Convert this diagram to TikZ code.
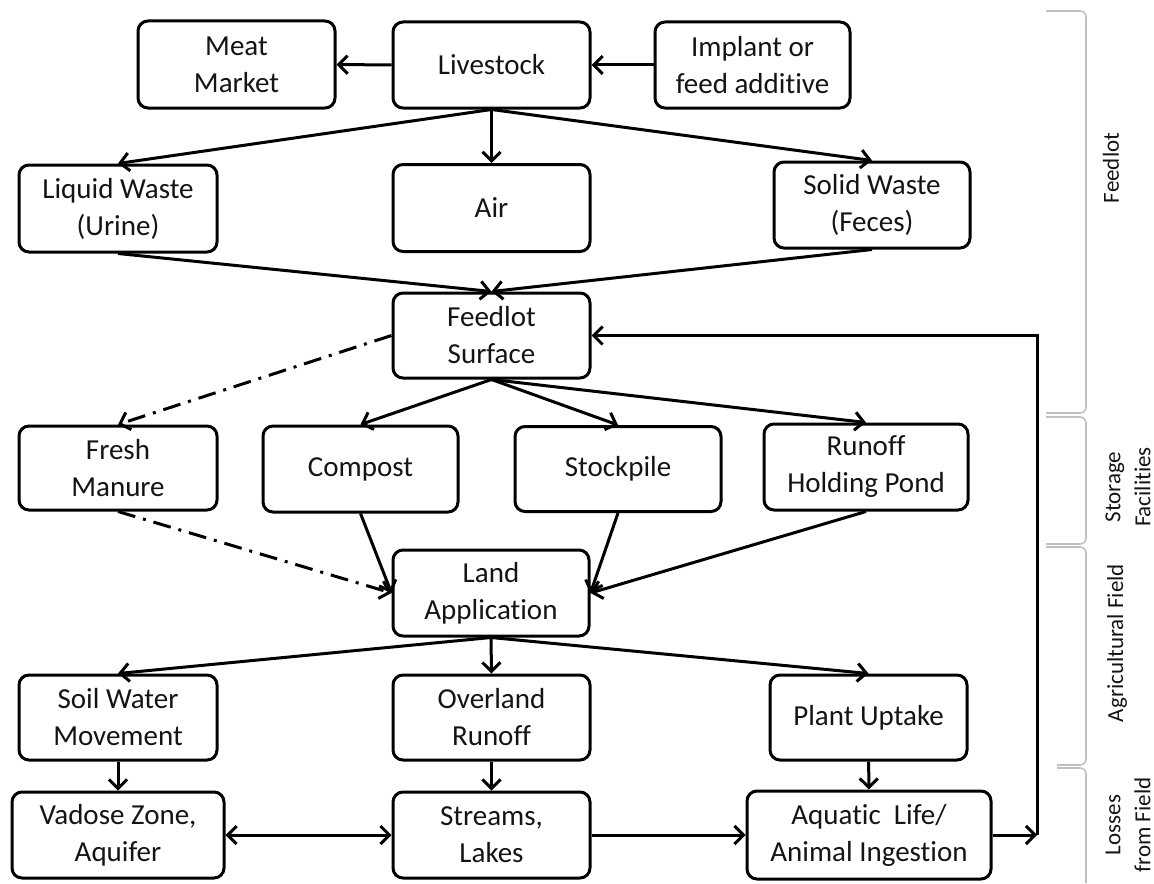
\documentclass[tikz,border=0pt]{standalone}
\usepackage{fontspec}
\setmainfont{Carlito}[Ligatures={NoCommon}]
\usetikzlibrary{arrows.meta}
\definecolor{brk}{RGB}{192,192,192}
\definecolor{txt}{RGB}{20,20,20}
\tikzset{
  box/.style={draw, line width=1.5pt, rounded corners=5pt, align=center,
    font=\fontsize{14.5}{18.5}\selectfont, text=txt, inner sep=1pt},
  arr/.style={line width=1.5pt, -{Straight Barb[length=4.5pt,width=9pt]}},
  dadot/.style={arr, dash pattern=on 9pt off 4pt on 1.5pt off 4pt},
  brack/.style={draw=brk, line width=0.8pt},
  side/.style={rotate=90, align=center, text=txt, font=\fontsize{11.5}{15}\selectfont}
}
\begin{document}
\begin{tikzpicture}[x=0.5pt,y=-0.5pt]
\useasboundingbox (0,0) rectangle (1154,883);
% row 1
\node[box, minimum width=98.5pt, minimum height=43.5pt] (meat) at (236.5,64.5) {Meat\\Market};
\node[box, minimum width=98.5pt, minimum height=43pt] (live) at (491.5,65) {Livestock};
\node[box, minimum width=97.5pt, minimum height=43pt] (impl) at (752.5,65) {Implant or\\feed additive};
% row 2
\node[box, minimum width=99pt, minimum height=43.5pt] (liq) at (118,208.5) {Liquid Waste\\(Urine)};
\node[box, minimum width=98.5pt, minimum height=43.5pt] (air) at (491.5,208) {Air};
\node[box, minimum width=98pt, minimum height=43pt] (solid) at (872,205) {Solid Waste\\(Feces)};
% feedlot surface
\node[box, minimum width=98.5pt, minimum height=42.5pt] (fs) at (491.5,335.5) {Feedlot\\Surface};
% row 4
\node[box, minimum width=99pt, minimum height=42pt] (fresh) at (118,468) {Fresh\\Manure};
\node[box, minimum width=97.5pt, minimum height=43pt] (comp) at (360.5,469) {Compost};
\node[box, minimum width=103pt, minimum height=42.5pt] (stock) at (618,469) {Stockpile};
\node[box, minimum width=102pt, minimum height=43pt] (pond) at (866,467) {Runoff\\Holding Pond};
% land application
\node[box, minimum width=98pt, minimum height=43pt] (land) at (491,593) {Land\\Application};
% row 6
\node[box, minimum width=99pt, minimum height=42.5pt] (soil) at (118,717.5) {Soil Water\\Movement};
\node[box, minimum width=98.5pt, minimum height=42.5pt] (over) at (491.5,717.5) {Overland\\Runoff};
\node[box, minimum width=98.5pt, minimum height=42.5pt] (plant) at (868.5,717.5) {Plant Uptake};
% row 7
\node[box, minimum width=106pt, minimum height=43pt] (vad) at (118,835) {Vadose Zone,\\Aquifer};
\node[box, minimum width=98.5pt, minimum height=43pt] (str) at (491.5,835) {Streams,\\Lakes};
\node[box, minimum width=122pt, minimum height=44pt] (aq) at (869,835) {Aquatic\ \ Life/\\Animal Ingestion};
% feedback corner points
\coordinate (fbb) at (1037,835);
\coordinate (fbt) at (1037,335.5);
% connectors
\draw[arr] (live) -- (meat);
\draw[arr] (impl) -- (live);
\draw[arr] (live.south) -- (liq.north);
\draw[arr] (live.south) -- (air.north);
\draw[arr] (live.south) -- (solid.north);
\draw[arr] (liq.south) -- (fs.north);
\draw[arr] (solid.south) -- (fs.north);
\draw[dadot] (fs.west) -- (fresh.north);
\draw[arr] (fs.south) -- (comp.north);
\draw[arr] (fs.south) -- (stock.north);
\draw[arr] (fs.south) -- (pond.north);
\draw[dadot] (fresh.south) -- (land.west);
\draw[arr] (comp.south) -- (land.west);
\draw[arr] (stock.south) -- (land.east);
\draw[arr] (pond.south) -- (land.east);
\draw[arr] (land.south) -- (soil.north);
\draw[arr] (land.south) -- (over.north);
\draw[arr] (land.south) -- (plant.north);
\draw[arr] (soil) -- (vad);
\draw[arr] (over) -- (str);
\draw[arr] (plant) -- (aq);
\draw[arr, {Straight Barb[length=4.5pt,width=9pt]}-{Straight Barb[length=4.5pt,width=9pt]}] (vad) -- (str);
\draw[arr] (str) -- (aq);
\draw[arr] (aq.east) -- (fbb);
\draw[arr] (fbb) -- (fbt) -- (fs.east);
% brackets
\draw[brack] (1046,11) -- (1080,11) to[out=0,in=90] (1086,17) -- (1086,407) to[out=-90,in=0] (1080,413) -- (1046,413);
\draw[brack] (1046,417) -- (1080,417) to[out=0,in=90] (1086,423) -- (1086,538) to[out=-90,in=0] (1080,544) -- (1046,544);
\draw[brack] (1046,547) -- (1080,547) to[out=0,in=90] (1086,553) -- (1086,759) to[out=-90,in=0] (1080,765) -- (1057,765);
\draw[brack] (1057,768) -- (1080,768) to[out=0,in=90] (1086,774) -- (1086,883);
% side labels
\node[side] (lfeed) at (1111,168) {Feedlot};
\node[side] (lstor) at (1128,487) {Storage\\Facilities};
\node[side] (lagri) at (1117,643) {Agricultural Field};
\node[side] (lloss) at (1128,825) {Losses\\from Field};
\end{tikzpicture}
\end{document}
